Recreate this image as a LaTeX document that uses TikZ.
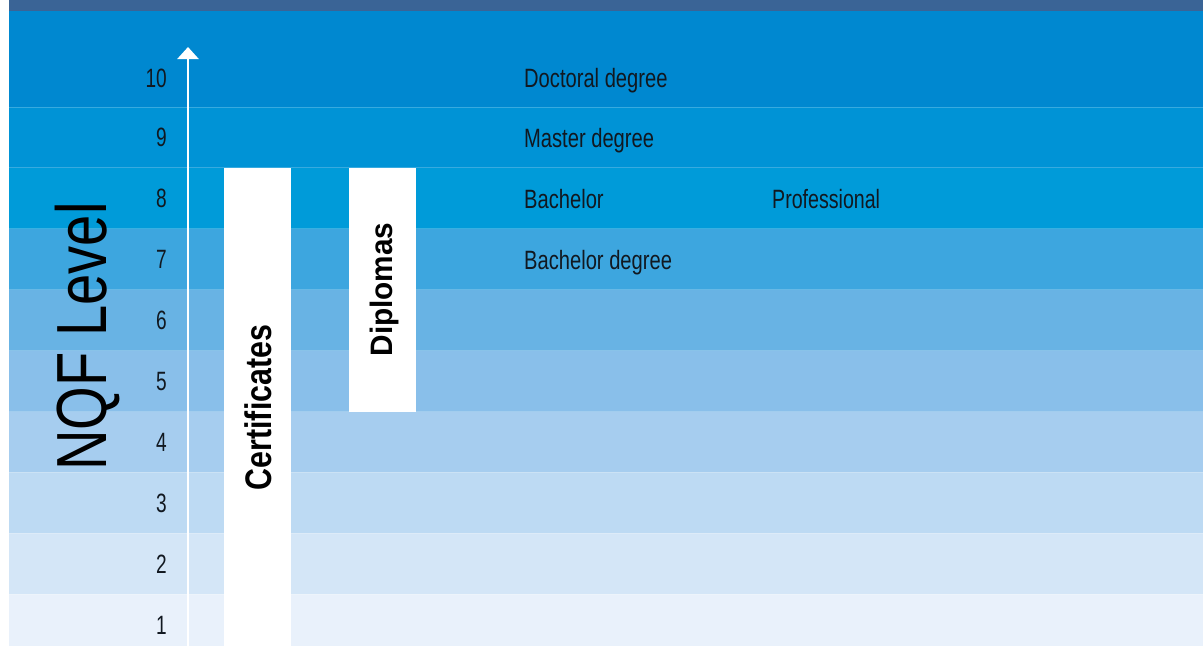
\documentclass[tikz,border=0pt]{standalone}
\usepackage{fontspec}
\setmainfont{Liberation Sans}
\usepackage{graphicx}
\usetikzlibrary{arrows.meta}
\definecolor{bandc}{HTML}{3A6496}
\definecolor{rTen}{HTML}{0088D0}
\definecolor{rNine}{HTML}{0093D6}
\definecolor{rEight}{HTML}{009BD9}
\definecolor{rSeven}{HTML}{3DA6DF}
\definecolor{rSix}{HTML}{68B3E4}
\definecolor{rFive}{HTML}{89BFEA}
\definecolor{rFour}{HTML}{A6CDEF}
\definecolor{rThree}{HTML}{BDDAF3}
\definecolor{rTwo}{HTML}{D4E6F7}
\definecolor{rOne}{HTML}{E9F1FB}
\definecolor{txtc}{HTML}{111820}
\tikzset{
  lbl/.style={inner sep=0pt, anchor=base west, text=txtc, font=\fontsize{26.5}{30}\selectfont},
  num/.style={inner sep=0pt, anchor=base east, text=txtc, font=\fontsize{26.5}{30}\selectfont},
  vlbl/.style={inner sep=0pt, anchor=base, rotate=90, text=black},
  sep/.style={white, opacity=0.22, line width=1pt},
  levelarrow/.style={white, line width=2.6pt, -{Triangle[width=21pt,length=12pt]}}
}
\begin{document}
\begin{tikzpicture}[x=1pt,y=-1pt]
\useasboundingbox (0,0) rectangle (1203,646);
\fill[white] (0,0) rectangle (1203,646);
% top band
\fill[bandc] (9,0) rectangle (1203,11);
% rows
\fill[rTen] (9,11) rectangle (1203,107);
\foreach \k/\c in {9/rNine,8/rEight,7/rSeven,6/rSix,5/rFive,4/rFour,3/rThree,2/rTwo,1/rOne}{
  \pgfmathsetmacro{\top}{107+(9-\k)*60.9}
  \pgfmathsetmacro{\bot}{min(646,\top+60.9)}
  \fill[\c] (9,\top) rectangle (1203,\bot);
}
\foreach \k in {9,...,1}{
  \pgfmathsetmacro{\top}{107+(9-\k)*60.9}
  \draw[sep] (9,\top) -- (1203,\top);
}
% white columns
\fill[white] (224,168) rectangle (291,646);
\fill[white] (349,168) rectangle (416,411.5);
% arrow
\coordinate (abot) at (188,646);
\coordinate (atop) at (188,47);
\draw[levelarrow] (abot) -- (atop);
% level numbers
\node[num] (n10) at (167,87) {\scalebox{0.72}[1]{10}};
\foreach \k in {9,...,1}{
  \pgfmathsetmacro{\bl}{107+(9-\k)*60.9+30.45+9.5}
  \node[num] (n\k) at (167,\bl) {\scalebox{0.72}[1]{\k}};
}
% qualification labels
\node[lbl] (doc) at (524,87) {\scalebox{0.76}[1]{Doctoral degree}};
\node[lbl] (mas) at (524,147) {\scalebox{0.76}[1]{Master degree}};
\node[lbl] (bach) at (524,208) {\scalebox{0.76}[1]{Bachelor}};
\node[lbl] (prof) at (772,208) {\scalebox{0.74}[1]{Professional}};
\node[lbl] (bdeg) at (524,269) {\scalebox{0.76}[1]{Bachelor degree}};
% vertical labels
\node[vlbl, font=\bfseries\fontsize{37}{40}\selectfont] (cert) at (271.5,407.5) {\scalebox{0.82}[1]{Certificates}};
\node[vlbl, font=\bfseries\fontsize{31}{34}\selectfont] (dipl) at (392,289.5) {\scalebox{0.96}[1]{Diplomas}};
\node[vlbl, font=\fontsize{71}{76}\selectfont] (nqf) at (106,336.5) {\scalebox{0.79}[1]{NQF Level}};
\end{tikzpicture}
\end{document}
